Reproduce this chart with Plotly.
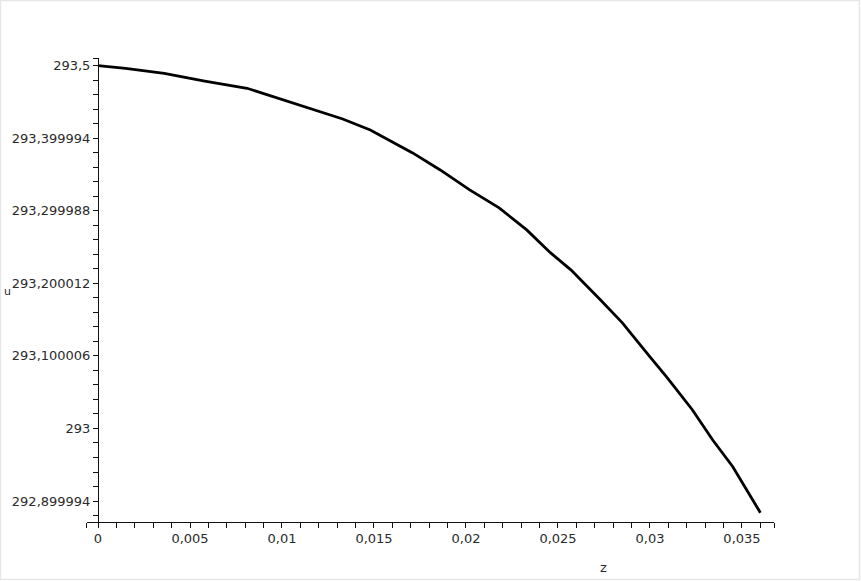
import plotly.graph_objects as go

# ---- data ----
z_vals = [0.0, 0.0015, 0.0036, 0.0058, 0.0081, 0.0107, 0.0133, 0.0148, 0.0171,
          0.0186, 0.0202, 0.0218, 0.0233, 0.0246, 0.0257, 0.0273, 0.0285,
          0.0300, 0.0309, 0.0323, 0.0334, 0.0345, 0.0360]
u_vals = [293.500, 293.4964, 293.4895, 293.4789, 293.4689, 293.4482, 293.4266,
          293.4115, 293.3798, 293.3563, 293.3288, 293.3040, 293.2737, 293.2420,
          293.2186, 293.1773, 293.1456, 293.0988, 293.0712, 293.0258, 292.9844,
          292.9472, 292.8839]

x_major = [0, 0.005, 0.01, 0.015, 0.02, 0.025, 0.03, 0.035]
x_major_labels = ["0", "0,005", "0,01", "0,015", "0,02", "0,025", "0,03", "0,035"]
y_major = [293.5, 293.4, 293.3, 293.2, 293.1, 293.0, 292.9]
y_major_labels = ["293,5", "293,399994", "293,299988", "293,200012",
                  "293,100006", "293", "292,899994"]

x_range = [-0.000614, 0.03674]
y_range = [292.8715, 293.5102]

W, H = 861, 581
FONT = "DejaVu Sans"
TXT = "#2a2a2a"

# tick positions: minor every 0.001 on x, every 0.02 on y, plus axis end marks
x_ticks = [round(i * 0.001, 4) for i in range(0, 37)] + x_range
x_text = []
for v in x_ticks:
    lab = ""
    for mv, ml in zip(x_major, x_major_labels):
        if abs(v - mv) < 1e-9:
            lab = ml
    x_text.append(lab)

y_ticks = [round(292.88 + i * 0.02, 4) for i in range(0, 32)] + [y_range[1]]
y_text = []
for v in y_ticks:
    lab = ""
    for mv, ml in zip(y_major, y_major_labels):
        if abs(v - mv) < 1e-6:
            lab = ml
    y_text.append(lab)

fig = go.Figure()
fig.add_trace(go.Scatter(x=z_vals, y=u_vals, mode="lines",
                         line=dict(color="black", width=2.8),
                         showlegend=False, hoverinfo="skip"))

x0p, x1p = 86.7, 774.0
y0p, y1p = 521.7, 58.3

fig.update_layout(
    width=W, height=H,
    margin=dict(l=0, r=0, t=0, b=0),
    paper_bgcolor="white", plot_bgcolor="white",
    font=dict(family=FONT, size=13, color=TXT),
    xaxis=dict(domain=[x0p / W, x1p / W], range=x_range, showgrid=False, zeroline=False,
               showline=True, linecolor="#111", linewidth=1,
               tickmode="array", tickvals=x_ticks, ticktext=x_text,
               ticks="outside", ticklen=5, tickcolor="#111", tickwidth=1,
               anchor="y"),
    yaxis=dict(domain=[1 - y0p / H, 1 - y1p / H], range=y_range, showgrid=False, zeroline=False,
               showline=True, linecolor="#111", linewidth=1,
               tickmode="array", tickvals=y_ticks, ticktext=y_text,
               ticks="outside", ticklen=5, tickcolor="#111", tickwidth=1,
               anchor="free", position=98 / W),
    annotations=[
        dict(text="z", x=603.5 / W, y=1 - 567.5 / H, xref="paper", yref="paper",
             showarrow=False, xanchor="center", yanchor="middle",
             font=dict(family=FONT, size=13, color=TXT)),
        dict(text="u", x=2 / W, y=1 - 291 / H, xref="paper", yref="paper",
             showarrow=False, xanchor="left", yanchor="middle",
             font=dict(family=FONT, size=11, color=TXT)),
    ],
    shapes=[dict(type="rect", xref="paper", yref="paper", x0=0.5 / W, x1=1 - 1.5 / W,
                 y0=1.5 / H, y1=1 - 0.5 / H, line=dict(color="#e6e6e6", width=1.5))],
)

fig.write_html("out.html", config={"displayModeBar": False, "staticPlot": True},
               post_script="document.body.style.margin='0';document.body.style.overflow='hidden';")
